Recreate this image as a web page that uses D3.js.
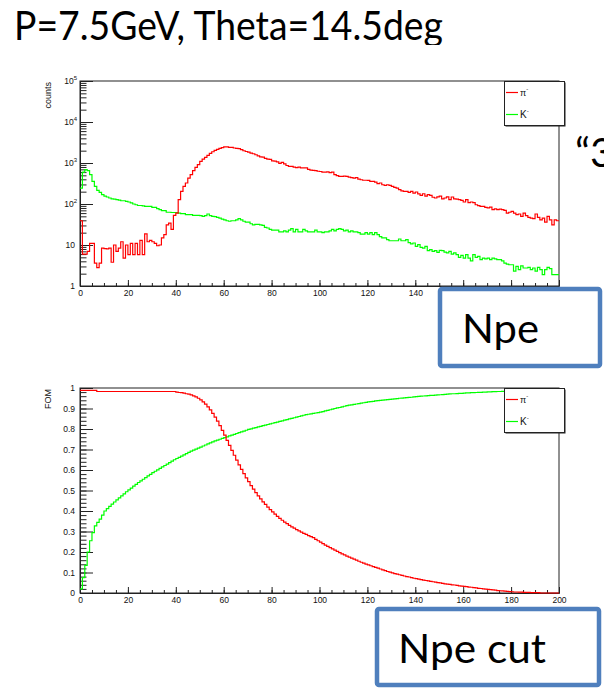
<!DOCTYPE html>
<html>
<head>
<meta charset="utf-8">
<script src="https://cdn.jsdelivr.net/npm/d3@7"></script>
<style>
  body { margin: 0; background: #fff; }
  svg { display: block; }
</style>
</head>
<body>
<div id="chart"></div>
<script>
// Npe spectrum, bins of 1 photoelectron from 0 to 200
var npeBins = d3.range(0, 200);
var xTicks = [0, 20, 40, 60, 80, 100, 120, 140, 160, 180, 200];
var logTicks = [1, 10, 100, 1000, 10000, 100000];
var fomTicks = [0, 0.1, 0.2, 0.3, 0.4, 0.5, 0.6, 0.7, 0.8, 0.9, 1];
var seriesNames = ["π", "K"];

var piCounts = [
  39, 6, 6, 7, 11, 11, 3.6, 2.8, 3.6, 8.4,
  8.2, 8, 8.4, 3.8, 10, 7, 8.4, 12, 4.8, 10,
  5.8, 11, 5.8, 11, 5.8, 13, 5.8, 18.6, 12, 13,
  12, 11, 9.6, 10, 15, 18, 31, 34, 24, 53,
  60, 128, 204, 270, 325, 430, 520, 650, 780, 910,
  1090, 1250, 1370, 1530, 1720, 1880, 2030, 2150, 2280, 2370,
  2460, 2460, 2410, 2410, 2320, 2280, 2230, 2110, 1990, 1910,
  1840, 1740, 1680, 1590, 1500, 1410, 1390, 1290, 1250, 1220,
  1130, 1110, 1070, 980, 1030, 950, 870, 830, 830, 790,
  770, 790, 760, 760, 760, 700, 670, 660, 650, 630,
  620, 600, 600, 610, 580, 600, 520, 490, 470, 470,
  480, 470, 450, 440, 430, 440, 405, 390, 380, 380,
  375, 355, 355, 340, 315, 325, 295, 285, 295, 285,
  270, 255, 245, 225, 210, 204, 204, 193, 204, 185,
  196, 176, 163, 178, 155, 170, 163, 146, 140, 150,
  155, 134, 140, 150, 128, 148, 134, 132, 128, 123,
  112, 128, 108, 112, 108, 96, 91, 88, 88, 83,
  80, 84, 73, 76, 73, 75, 73, 70, 60, 63,
  66, 60, 55, 57, 50, 60, 52, 47, 45, 44,
  57, 47, 41, 45, 36, 50, 41, 31, 41, 39
];

var kCounts = [
  245, 600, 690, 650, 520, 355, 270, 215, 193, 170,
  155, 148, 140, 134, 132, 128, 125, 120, 120, 116,
  112, 106, 100, 96, 92, 92, 90, 88, 88, 88,
  83, 83, 77, 73, 69, 69, 63, 63, 62, 62,
  62, 60, 58, 58, 55, 55, 55, 53, 53, 53,
  52, 50, 52, 57, 52, 50, 49, 47, 45, 43,
  41, 39, 38, 39, 39, 41, 44, 41, 38, 36,
  36, 33, 31, 32, 32, 31, 30, 27, 26, 24,
  23, 23, 23, 21, 21, 22, 21, 23, 25, 21,
  24, 21, 21, 24, 22, 21, 21, 21, 23, 21,
  21, 20, 21, 21, 22, 24, 22, 24, 25, 24,
  22, 23, 21, 22, 21, 21, 20, 18.5, 18.5, 20,
  18.5, 20, 18, 20, 18, 16, 15, 15, 13.5, 12.7,
  12.7, 12.7, 12.7, 14, 12.7, 12.7, 13.5, 11.4, 10.6, 11.2,
  9.3, 10.2, 8.8, 8.4, 9.3, 7.3, 7.7, 7, 7.3, 6.6,
  7.4, 7.3, 6.7, 6.4, 7, 6, 6.4, 5.8, 5, 5.6,
  4.8, 5.8, 4.8, 4.1, 5.8, 5, 5.3, 4.4, 4.8, 4.6,
  4.8, 4.4, 4.8, 4.6, 4.4, 4.4, 4.1, 3.6, 3.4, 3.3,
  3.3, 2.3, 3, 2.5, 3.1, 2.75, 2.75, 2.85, 2.5, 2.75,
  2.3, 2.85, 2.5, 1.9, 2.5, 2.85, 2.65, 1.9, 1.9, 1.9
];

// figure of merit vs Npe cut
var piFom = [
  .988, .988, .988, .988, .988, .988, .988, .983, .983, .983,
  .983, .983, .983, .983, .983, .983, .983, .983, .983, .983,
  .983, .983, .983, .983, .983, .983, .983, .983, .983, .983,
  .983, .983, .983, .983, .983, .983, .983, .983, .983, .983,
  .980, .978, .977, .975, .972, .970, .966, .962, .957, .950,
  .942, .932, .921, .908, .893, .876, .858, .838, .816, .793,
  .770, .745, .720, .696, .672, .648, .625, .603, .582, .562,
  .543, .524, .507, .490, .474, .459, .445, .432, .419, .407,
  .396, .385, .374, .364, .355, .346, .338, .330, .323, .316,
  .309, .303, .297, .291, .286, .280, .275, .270, .262, .255,
  .248, .241, .234, .227, .221, .215, .209, .203, .197, .191,
  .186, .180, .175, .170, .165, .160, .155, .150, .146, .141,
  .137, .133, .129, .125, .121, .117, .113, .109, .105, .102,
  .098, .095, .092, .089, .086, .083, .080, .078, .075, .072,
  .070, .068, .065, .063, .061, .059, .057, .055, .053, .051,
  .049, .047, .045, .043, .042, .040, .039, .037, .035, .034,
  .032, .031, .029, .028, .026, .025, .023, .022, .020, .019,
  .018, .016, .015, .014, .012, .011, .010, .009, .008, .007,
  .006, .005, .005, .004, .004, .003, .003, .003, .002, .002,
  .002, .002, 0, 0, 0, 0, 0, 0, 0, 0
];

var kFom = [
  .02, .075, .135, .2, .255, .295, .327, .345, .36, .38,
  .400, .412, .423, .434, .444, .454, .464, .474, .484, .494,
  .503, .512, .521, .530, .539, .547, .555, .563, .571, .579,
  .587, .594, .601, .608, .615, .622, .629, .636, .643, .650,
  .656, .662, .668, .674, .680, .686, .692, .697, .702, .707,
  .712, .717, .722, .727, .732, .737, .742, .746, .750, .754,
  .758, .762, .766, .770, .774, .778, .782, .786, .790, .794,
  .798, .801, .804, .807, .810, .813, .816, .819, .822, .825,
  .828, .831, .834, .837, .840, .843, .846, .849, .852, .855,
  .858, .861, .864, .867, .870, .872, .874, .876, .878, .880,
  .882, .885, .888, .891, .894, .897, .900, .903, .905, .908,
  .911, .914, .916, .918, .920, .922, .924, .926, .928, .930,
  .932, .934, .935, .937, .938, .940, .941, .942, .943, .945,
  .946, .947, .948, .950, .951, .952, .953, .954, .955, .957,
  .958, .959, .960, .961, .962, .963, .964, .964, .965, .966,
  .967, .968, .969, .970, .971, .972, .972, .973, .974, .974,
  .975, .976, .976, .977, .977, .978, .979, .979, .980, .980,
  .981, .981, .982, .982, .983, .983, .984, .984, .985, .985,
  .986, .986, .986, .987, .987, .987, .988, .988, .988, .988,
  .989, .989, .989, .989, .990, .990, .990, .990, .990, .990
];

var W = 604, H = 688;
var axisFont = "'Liberation Sans', Arial, sans-serif";
var slideFont = "Lato, Carlito, Calibri, sans-serif";

var svg = d3.select("#chart").append("svg")
    .attr("width", W)
    .attr("height", H);

var x = d3.scaleLinear().domain([0, 200]).range([80, 559]);
var yLog = d3.scaleLog().domain([1, 1e5]).range([286, 81]);
var yFom = d3.scaleLinear().domain([0, 1]).range([593, 388]);

// step line of a histogram: last edge repeats the last bin
function histPath(values, y) {
  var pts = npeBins.map(function(i) { return [i, values[i]]; });
  pts.push([200, values[199]]);
  return d3.line()
    .x(function(d) { return x(d[0]); })
    .y(function(d) { return y(d[1]); })
    .curve(d3.curveStepAfter)(pts);
}

function styleAxis(g) {
  g.selectAll("path, line").attr("stroke", "#222");
  g.selectAll("text")
    .attr("font-family", axisFont)
    .attr("font-size", 8.5)
    .attr("fill", "#111");
}

function drawPad(y, yMajor, yMinor, yTitle, piVals, kVals, isLog) {
  var y0 = y.range()[0], y1 = y.range()[1];

  // frame
  svg.append("rect")
    .attr("x", 80).attr("y", y1)
    .attr("width", 559 - 80).attr("height", y0 - y1)
    .attr("fill", "none").attr("stroke", "#222").attr("stroke-width", 1);

  // x axis, ticks pointing into the frame
  svg.append("g")
    .attr("transform", "translate(0," + y0 + ")")
    .call(d3.axisBottom(x).tickValues(d3.range(0, 201, 5)).tickSize(-3).tickSizeOuter(0).tickFormat(""))
    .call(styleAxis);
  svg.append("g")
    .attr("transform", "translate(0," + y0 + ")")
    .call(d3.axisBottom(x).tickValues(xTicks).tickSize(-6).tickSizeOuter(0).tickPadding(4).tickFormat(d3.format("d")))
    .call(styleAxis);

  // y axis
  svg.append("g")
    .attr("transform", "translate(80,0)")
    .call(d3.axisLeft(y).tickValues(yMinor).tickSize(-6.5).tickSizeOuter(0).tickFormat(""))
    .call(styleAxis);
  var ya = svg.append("g")
    .attr("transform", "translate(80,0)")
    .call(d3.axisLeft(y).tickValues(yMajor).tickSize(-13).tickSizeOuter(0).tickPadding(5)
      .tickFormat(isLog ? d3.format("d") : function(d) { return d === 0 || d === 1 ? d : d3.format(".1f")(d); }))
    .call(styleAxis);

  if (isLog) {
    ya.selectAll(".tick text").each(function(d) {
      if (d < 100) return;
      var t = d3.select(this).text(null).attr("x", -3);
      t.append("tspan").text("10");
      t.append("tspan").attr("font-size", 6).attr("dy", "-0.7em").text(Math.round(Math.log10(d)));
    });
  }

  svg.append("text")
    .attr("transform", "translate(51," + (y1 + 1) + ") rotate(-90)")
    .attr("text-anchor", "end")
    .attr("font-family", axisFont)
    .attr("font-size", 9)
    .attr("fill", "#111")
    .text(yTitle);

  svg.append("path")
    .attr("d", histPath(kVals, y))
    .attr("fill", "none").attr("stroke", "#00ff00").attr("stroke-width", 1.2);
  svg.append("path")
    .attr("d", histPath(piVals, y))
    .attr("fill", "none").attr("stroke", "#ff0000").attr("stroke-width", 1.2);

  // legend with ROOT style shadow
  var lg = svg.append("g").attr("transform", "translate(504," + y1 + ")");
  lg.append("rect").attr("x", 1.5).attr("y", 1.5).attr("width", 60).attr("height", 44).attr("fill", "#222");
  lg.append("rect").attr("x", 0.5).attr("y", 0.5).attr("width", 60).attr("height", 44)
    .attr("fill", "#fff").attr("stroke", "#222");
  var colors = ["#ff0000", "#00ff00"];
  seriesNames.forEach(function(name, i) {
    var ly = 11.5 + i * 22;
    lg.append("line")
      .attr("x1", 2).attr("x2", 14).attr("y1", ly).attr("y2", ly)
      .attr("stroke", colors[i]).attr("stroke-width", 1.2);
    var t = lg.append("text")
      .attr("x", 16).attr("y", ly + 3.5)
      .attr("font-family", axisFont)
      .attr("font-size", i === 0 ? 9 : 10)
      .attr("fill", "#111");
    t.append("tspan").text(name);
    t.append("tspan").attr("font-size", 6).attr("dy", "-0.8em").text("-");
  });
}

var logMinor = [];
[1, 10, 100, 1000, 10000].forEach(function(p) {
  for (var m = 2; m <= 9; m++) logMinor.push(m * p);
});

drawPad(yLog, logTicks, logMinor, "counts", piCounts, kCounts, true);
drawPad(yFom, fomTicks, d3.range(0, 1.001, 0.02), "FOM", piFom, kFom, false);

// slide texts
svg.append("clipPath").attr("id", "titleClip")
  .append("rect").attr("x", 0).attr("y", 0).attr("width", W).attr("height", 45);
svg.append("text")
  .attr("clip-path", "url(#titleClip)")
  .attr("x", 14).attr("y", 40)
  .attr("font-family", slideFont)
  .attr("font-size", 41)
  .attr("textLength", 429)
  .attr("lengthAdjust", "spacingAndGlyphs")
  .text("P=7.5GeV, Theta=14.5deg");

svg.append("text")
  .attr("x", 575).attr("y", 167)
  .attr("font-family", slideFont)
  .attr("font-size", 41)
  .text("“3");

function slideBox(bx, by, bw, bh, label, tx, ty, tw) {
  svg.append("rect")
    .attr("x", bx).attr("y", by).attr("width", bw).attr("height", bh)
    .attr("rx", 2)
    .attr("fill", "#fff").attr("stroke", "#4f7fbd").attr("stroke-width", 4.5);
  svg.append("text")
    .attr("x", tx).attr("y", ty)
    .attr("font-family", slideFont)
    .attr("font-size", 41)
    .attr("textLength", tw)
    .attr("lengthAdjust", "spacingAndGlyphs")
    .text(label);
}

slideBox(440, 289, 160, 77, "Npe", 462, 343, 77);
slideBox(377, 609, 222, 76, "Npe cut", 398, 663, 148);
</script>
</body>
</html>
